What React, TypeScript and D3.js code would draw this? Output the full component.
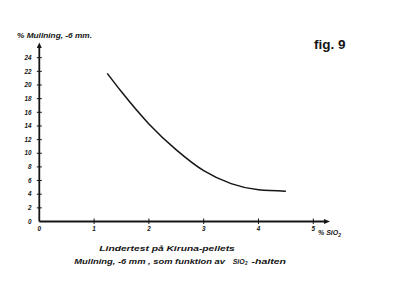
import React from "react";
import * as d3 from "d3";

const sio2 = [1.24, 1.5, 2.0, 2.5, 3.0, 3.5, 4.0, 4.5];
const mullning = [21.7, 19.0, 14.3, 10.5, 7.45, 5.55, 4.65, 4.45];
const yTicks = [0, 2, 4, 6, 8, 10, 12, 14, 16, 18, 20, 22, 24];
const xTicks = [0, 1, 2, 3, 4, 5];

const W = 400;
const H = 299;
const font = "'Liberation Sans', Arial, sans-serif";
const ink = "#151515";

export default function App() {
  const x = d3.scaleLinear().domain([0, 5]).range([39.3, 313.3]);
  const y = d3.scaleLinear().domain([0, 24]).range([221.5, 57.7]);
  const line = d3
    .line<number>()
    .x((_, i) => x(sio2[i]))
    .y((d) => y(d))
    .curve(d3.curveMonotoneX);
  const x0 = x(0);
  const y0 = y(0);
  const lab = {
    fontFamily: font,
    fontWeight: "bold" as const,
    fontStyle: "italic" as const,
    fill: ink,
  };
  return (
    <svg
      width={W}
      height={H}
      viewBox={`0 0 ${W} ${H}`}
      style={{ position: "absolute", left: 0, top: 0, background: "#fff" }}
    >
      <rect x={0} y={0} width={W} height={H} fill="#fff" />
      {/* axes */}
      <line x1={x0} y1={y0} x2={x0} y2={46} stroke={ink} strokeWidth={1.8} />
      <path d={`M${x0 - 2.5},${48} L${x0},${42.5} L${x0 + 2.5},${48} Z`} fill={ink} />
      <line x1={x0} y1={y0} x2={326} y2={y0} stroke={ink} strokeWidth={1.8} />
      <path d={`M${324},${y0 - 2.5} L${330},${y0} L${324},${y0 + 2.5} Z`} fill={ink} />
      {/* y ticks */}
      {yTicks.map((t) => (
        <g key={"y" + t}>
          {t > 0 && (
            <line x1={x0 - 2.5} x2={x0 + 2.5} y1={y(t)} y2={y(t)} stroke={ink} strokeWidth={1} />
          )}
          <text x={31.5} y={y(t) + 2.2} textAnchor="end" fontSize={6.3} {...lab}>
            {t}
          </text>
        </g>
      ))}
      {/* x ticks */}
      {xTicks.map((t) => (
        <g key={"x" + t}>
          {t > 0 && (
            <line x1={x(t)} x2={x(t)} y1={y0 - 3} y2={y0 + 2.5} stroke={ink} strokeWidth={1} />
          )}
          <text x={x(t)} y={y0 + 9} textAnchor="middle" fontSize={6.3} {...lab}>
            {t}
          </text>
        </g>
      ))}
      {/* curve */}
      <path d={line(mullning) || ""} fill="none" stroke={ink} strokeWidth={1.5} />
      {/* labels */}
      <text x={17} y={38} fontSize={7.5} {...lab} textLength={75} lengthAdjust="spacingAndGlyphs">
        % Mullning, -6 mm.
      </text>
      <text x={318} y={235} fontSize={7} {...lab}>
        % SiO<tspan fontSize={5} dy={1.5}>2</tspan>
      </text>
      <text
        x={314}
        y={48.5}
        fontFamily={font}
        fontSize={12.5}
        fontWeight="bold"
        fill={ink}
        textLength={31.5}
        lengthAdjust="spacingAndGlyphs"
      >
        fig. 9
      </text>
      <text x={99.3} y={251} fontSize={6.3} {...lab} textLength={135.5} lengthAdjust="spacingAndGlyphs">
        Lindertest  på  Kiruna-pellets
      </text>
      <text x={74.3} y={264} fontSize={6.3} {...lab} textLength={150.7} lengthAdjust="spacingAndGlyphs">
        Mullning, -6 mm , som  funktion  av
      </text>
      <text x={232.7} y={264} fontSize={6.3} {...lab} textLength={12} lengthAdjust="spacingAndGlyphs">
        SiO
      </text>
      <text x={245} y={265.3} fontSize={4.6} {...lab}>
        2
      </text>
      <text x={251.5} y={264} fontSize={6.3} {...lab} textLength={34.5} lengthAdjust="spacingAndGlyphs">
        -halten
      </text>
    </svg>
  );
}
